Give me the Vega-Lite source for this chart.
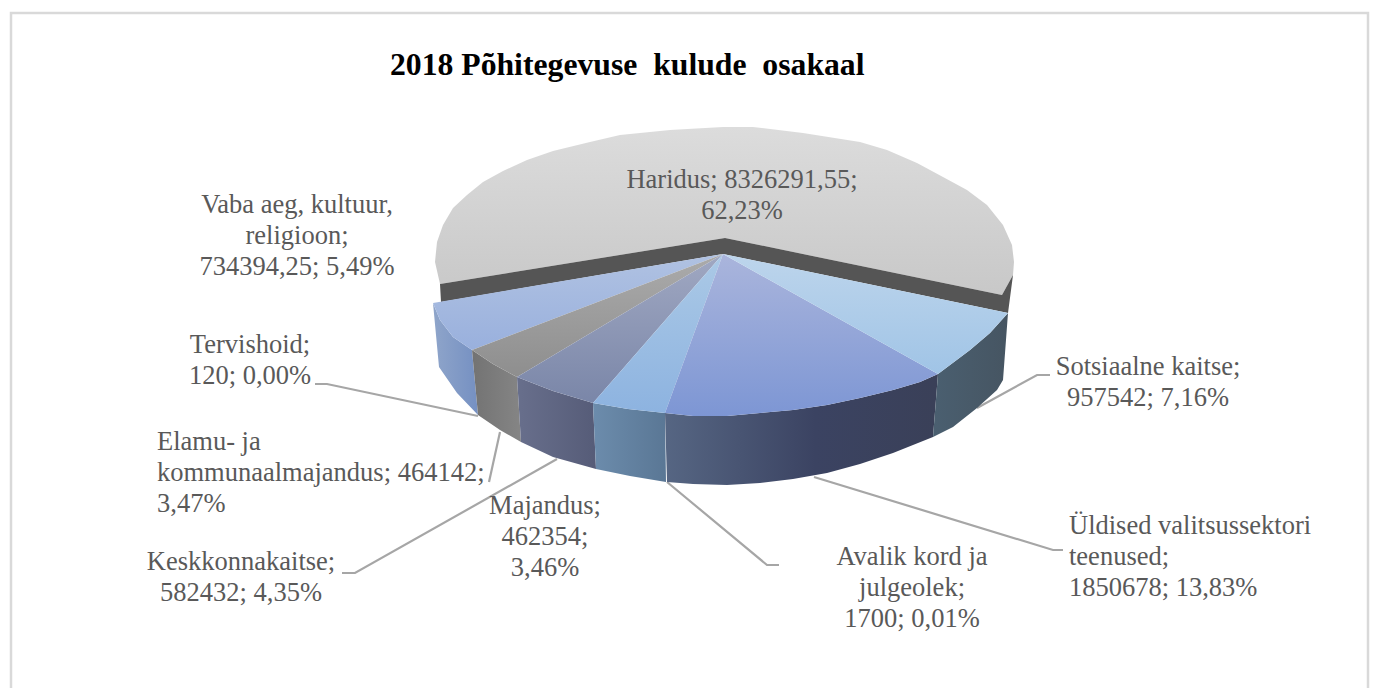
{"$schema":"https://vega.github.io/schema/vega-lite/v6.json","width":1373,"height":688,"padding":0,"autosize":"none","background":"white","config":{"view":{"stroke":null}},
"title":{"text":"2018 Põhitegevuse \u00a0kulude \u00a0osakaal","font":"Liberation Serif","fontSize":31.7,"fontWeight":"bold","color":"#000000","anchor":"start","dx":390,"dy":86,"frame":"bounds"},
"datasets":{
"frame":[{"i":0,"x":-712,"y":-434},{"i":1,"x":-712,"y":241},{"i":2,"x":645,"y":241},{"i":3,"x":645,"y":-434}],
"haridusTop":[{"i":0,"x":-283,"y":-30},{"i":1,"x":-288,"y":-8},{"i":2,"x":-286,"y":12},{"i":3,"x":-280,"y":29},{"i":4,"x":-270,"y":46},{"i":5,"x":-256,"y":59},{"i":6,"x":-240,"y":72},{"i":7,"x":-220,"y":83},{"i":8,"x":-196,"y":94},{"i":9,"x":-170,"y":103},{"i":10,"x":-133,"y":112},{"i":11,"x":-103,"y":119},{"i":12,"x":-53,"y":124},{"i":13,"x":0,"y":127},{"i":14,"x":30,"y":127},{"i":15,"x":80,"y":121},{"i":16,"x":137,"y":112},{"i":17,"x":164,"y":104},{"i":18,"x":194,"y":91},{"i":19,"x":220,"y":77},{"i":20,"x":244,"y":64},{"i":21,"x":264,"y":49},{"i":22,"x":280,"y":29},{"i":23,"x":289,"y":9},{"i":24,"x":291,"y":-8},{"i":25,"x":290,"y":-21},{"i":26,"x":279,"y":-41},{"i":27,"x":2,"y":16}],
"haridusCut":[{"i":0,"x":-283,"y":-30},{"i":1,"x":2,"y":16},{"i":2,"x":279,"y":-41},{"i":3,"x":290,"y":-21},{"i":4,"x":285,"y":-59},{"i":5,"x":0,"y":0},{"i":6,"x":-282,"y":-48}],
"vabaTop":[{"i":0,"x":0,"y":0},{"i":1,"x":-290,"y":-49},{"i":2,"x":-283,"y":-66},{"i":3,"x":-270,"y":-83},{"i":4,"x":-251,"y":-96}],
"vabaSide":[{"i":0,"x":-290,"y":-49},{"i":1,"x":-283,"y":-66},{"i":2,"x":-270,"y":-83},{"i":3,"x":-251,"y":-96},{"i":4,"x":-245,"y":-161},{"i":5,"x":-266,"y":-139},{"i":6,"x":-284,"y":-113}],
"elamuTop":[{"i":0,"x":0,"y":0},{"i":1,"x":-251,"y":-96},{"i":2,"x":-230,"y":-110},{"i":3,"x":-206,"y":-123}],
"elamuSide":[{"i":0,"x":-251,"y":-96},{"i":1,"x":-230,"y":-110},{"i":2,"x":-206,"y":-123},{"i":3,"x":-202,"y":-188},{"i":4,"x":-223,"y":-176},{"i":5,"x":-245,"y":-161}],
"keskTop":[{"i":0,"x":0,"y":0},{"i":1,"x":-206,"y":-123},{"i":2,"x":-170,"y":-137},{"i":3,"x":-130,"y":-149}],
"keskSide":[{"i":0,"x":-206,"y":-123},{"i":1,"x":-170,"y":-137},{"i":2,"x":-130,"y":-149},{"i":3,"x":-127,"y":-215},{"i":4,"x":-170,"y":-203},{"i":5,"x":-202,"y":-188}],
"majTop":[{"i":0,"x":0,"y":0},{"i":1,"x":-130,"y":-149},{"i":2,"x":-95,"y":-155},{"i":3,"x":-58,"y":-159}],
"majSide":[{"i":0,"x":-130,"y":-149},{"i":1,"x":-95,"y":-155},{"i":2,"x":-58,"y":-159},{"i":3,"x":-57,"y":-228},{"i":4,"x":-93,"y":-222},{"i":5,"x":-127,"y":-215}],
"uldTop":[{"i":0,"x":0,"y":0},{"i":1,"x":-58,"y":-159},{"i":2,"x":-30,"y":-162},{"i":3,"x":4,"y":-162},{"i":4,"x":37,"y":-159},{"i":5,"x":70,"y":-156},{"i":6,"x":104,"y":-151},{"i":7,"x":137,"y":-144},{"i":8,"x":170,"y":-136},{"i":9,"x":197,"y":-128},{"i":10,"x":215,"y":-120}],
"uldSide":[{"i":0,"x":-58,"y":-159},{"i":1,"x":-30,"y":-162},{"i":2,"x":4,"y":-162},{"i":3,"x":37,"y":-159},{"i":4,"x":70,"y":-156},{"i":5,"x":104,"y":-151},{"i":6,"x":137,"y":-144},{"i":7,"x":170,"y":-136},{"i":8,"x":197,"y":-128},{"i":9,"x":215,"y":-120},{"i":10,"x":210,"y":-183},{"i":11,"x":170,"y":-199},{"i":12,"x":137,"y":-210},{"i":13,"x":104,"y":-219},{"i":14,"x":70,"y":-225},{"i":15,"x":37,"y":-229},{"i":16,"x":4,"y":-231},{"i":17,"x":-30,"y":-230},{"i":18,"x":-56,"y":-228}],
"sotsTop":[{"i":0,"x":0,"y":0},{"i":1,"x":215,"y":-120},{"i":2,"x":247,"y":-96},{"i":3,"x":267,"y":-79},{"i":4,"x":285,"y":-59}],
"sotsSide":[{"i":0,"x":215,"y":-120},{"i":1,"x":247,"y":-96},{"i":2,"x":267,"y":-79},{"i":3,"x":285,"y":-59},{"i":4,"x":280,"y":-126},{"i":5,"x":274,"y":-136},{"i":6,"x":254,"y":-154},{"i":7,"x":230,"y":-173},{"i":8,"x":210,"y":-183}],
"leaders":[
{"sector":"Sotsiaalne kaitse","i":0,"x":254,"y":-154},{"sector":"Sotsiaalne kaitse","i":1,"x":314,"y":-121},{"sector":"Sotsiaalne kaitse","i":2,"x":327,"y":-121},
{"sector":"Üldised valitsussektori teenused","i":0,"x":91,"y":-223},{"sector":"Üldised valitsussektori teenused","i":1,"x":330,"y":-296},{"sector":"Üldised valitsussektori teenused","i":2,"x":340,"y":-296},
{"sector":"Avalik kord ja julgeolek","i":0,"x":-56,"y":-228},{"sector":"Avalik kord ja julgeolek","i":1,"x":44,"y":-311},{"sector":"Avalik kord ja julgeolek","i":2,"x":56,"y":-311},
{"sector":"Keskkonnakaitse","i":0,"x":-166,"y":-205},{"sector":"Keskkonnakaitse","i":1,"x":-368,"y":-319},{"sector":"Keskkonnakaitse","i":2,"x":-381,"y":-319},
{"sector":"Elamu- ja kommunaalmajandus","i":0,"x":-223,"y":-178},{"sector":"Elamu- ja kommunaalmajandus","i":1,"x":-234,"y":-228},
{"sector":"Tervishoid","i":0,"x":-245,"y":-162},{"sector":"Tervishoid","i":1,"x":-396,"y":-130},{"sector":"Tervishoid","i":2,"x":-408,"y":-130}],
"labels":[
{"sector":"Haridus","value":8326291.55,"pct":62.23,"label":"Haridus; 8326291,55;\n62,23%","x":19,"y":74,"side":"center"},
{"sector":"Vaba aeg, kultuur, religioon","value":734394.25,"pct":5.49,"label":"Vaba aeg, kultuur,\nreligioon;\n734394,25; 5,49%","x":-426,"y":49,"side":"center"},
{"sector":"Tervishoid","value":120,"pct":0,"label":"Tervishoid;\n120; 0,00%","x":-473,"y":-91,"side":"center"},
{"sector":"Elamu- ja kommunaalmajandus","value":464142,"pct":3.47,"label":"Elamu- ja\nkommunaalmajandus; 464142;\n3,47%","x":-566,"y":-188,"side":"left"},
{"sector":"Keskkonnakaitse","value":582432,"pct":4.35,"label":"Keskkonnakaitse;\n582432; 4,35%","x":-482,"y":-308,"side":"center"},
{"sector":"Majandus","value":462354,"pct":3.46,"label":"Majandus;\n462354;\n3,46%","x":-178,"y":-252,"side":"center"},
{"sector":"Avalik kord ja julgeolek","value":1700,"pct":0.01,"label":"Avalik kord ja\njulgeolek;\n1700; 0,01%","x":189,"y":-303,"side":"center"},
{"sector":"Üldised valitsussektori teenused","value":1850678,"pct":13.83,"label":"Üldised valitsussektori\nteenused;\n1850678; 13,83%","x":346,"y":-272,"side":"left"},
{"sector":"Sotsiaalne kaitse","value":957542,"pct":7.16,"label":"Sotsiaalne kaitse;\n957542; 7,16%","x":425,"y":-113,"side":"center"}]
},
"encoding":{"x":{"field":"x","type":"quantitative","scale":{"domain":[-723,650],"nice":false,"zero":false},"axis":null},"y":{"field":"y","type":"quantitative","scale":{"domain":[-434,254],"nice":false,"zero":false},"axis":null}},
"layer":[
{"data":{"name":"frame"},"mark":{"type":"line","stroke":"#d9d9d9","strokeWidth":2.5},"encoding":{"order":{"field":"i"}}},
{"data":{"name":"haridusTop"},"mark":{"type":"line","strokeWidth":0,"fill":{"gradient":"linear","x1":0,"y1":0,"x2":0,"y2":1,"stops":[{"offset":0,"color":"#dcdcdc"},{"offset":1,"color":"#c8c8c8"}]}},"encoding":{"order":{"field":"i"}}},
{"data":{"name":"haridusCut"},"mark":{"type":"line","strokeWidth":0,"fill":"#555555"},"encoding":{"order":{"field":"i"}}},
{"data":{"name":"leaders"},"mark":{"type":"line","stroke":"#a6a6a6","strokeWidth":2.2},"encoding":{"detail":{"field":"sector"},"order":{"field":"i"}}},
{"data":{"name":"vabaSide"},"mark":{"type":"line","strokeWidth":0,"fill":{"gradient":"linear","x1":0,"y1":0,"x2":1,"y2":0,"stops":[{"offset":0,"color":"#8fa5ca"},{"offset":1,"color":"#7590c2"}]}},"encoding":{"order":{"field":"i"}}},
{"data":{"name":"vabaTop"},"mark":{"type":"line","strokeWidth":0,"fill":{"gradient":"linear","x1":0,"y1":0,"x2":0,"y2":1,"stops":[{"offset":0,"color":"#b0c2e2"},{"offset":1,"color":"#99b0dd"}]}},"encoding":{"order":{"field":"i"}}},
{"data":{"name":"elamuSide"},"mark":{"type":"line","strokeWidth":0,"fill":{"gradient":"linear","x1":0,"y1":0,"x2":1,"y2":0,"stops":[{"offset":0,"color":"#737373"},{"offset":1,"color":"#858585"}]}},"encoding":{"order":{"field":"i"}}},
{"data":{"name":"elamuTop"},"mark":{"type":"line","strokeWidth":0,"fill":{"gradient":"linear","x1":0,"y1":0,"x2":0,"y2":1,"stops":[{"offset":0,"color":"#ababab"},{"offset":1,"color":"#8e8e8e"}]}},"encoding":{"order":{"field":"i"}}},
{"data":{"name":"keskSide"},"mark":{"type":"line","strokeWidth":0,"fill":{"gradient":"linear","x1":0,"y1":0,"x2":1,"y2":0,"stops":[{"offset":0,"color":"#686f8c"},{"offset":1,"color":"#565c78"}]}},"encoding":{"order":{"field":"i"}}},
{"data":{"name":"keskTop"},"mark":{"type":"line","strokeWidth":0,"fill":{"gradient":"linear","x1":0,"y1":0,"x2":0,"y2":1,"stops":[{"offset":0,"color":"#a0a8c2"},{"offset":1,"color":"#7a86a8"}]}},"encoding":{"order":{"field":"i"}}},
{"data":{"name":"majSide"},"mark":{"type":"line","strokeWidth":0,"fill":{"gradient":"linear","x1":0,"y1":0,"x2":1,"y2":0,"stops":[{"offset":0,"color":"#6c8cac"},{"offset":1,"color":"#5a7795"}]}},"encoding":{"order":{"field":"i"}}},
{"data":{"name":"majTop"},"mark":{"type":"line","strokeWidth":0,"fill":{"gradient":"linear","x1":0,"y1":0,"x2":0,"y2":1,"stops":[{"offset":0,"color":"#abc9e6"},{"offset":1,"color":"#8db3e0"}]}},"encoding":{"order":{"field":"i"}}},
{"data":{"name":"uldSide"},"mark":{"type":"line","strokeWidth":0,"fill":{"gradient":"linear","x1":0,"y1":0,"x2":1,"y2":0,"stops":[{"offset":0,"color":"#566683"},{"offset":0.55,"color":"#3b4362"},{"offset":1,"color":"#3a4058"}]}},"encoding":{"order":{"field":"i"}}},
{"data":{"name":"uldTop"},"mark":{"type":"line","strokeWidth":0,"fill":{"gradient":"linear","x1":0,"y1":0,"x2":0,"y2":1,"stops":[{"offset":0,"color":"#aab5dc"},{"offset":1,"color":"#7d96d4"}]}},"encoding":{"order":{"field":"i"}}},
{"data":{"name":"sotsSide"},"mark":{"type":"line","strokeWidth":0,"fill":{"gradient":"linear","x1":0,"y1":0,"x2":1,"y2":0,"stops":[{"offset":0,"color":"#4a5f70"},{"offset":1,"color":"#465562"}]}},"encoding":{"order":{"field":"i"}}},
{"data":{"name":"sotsTop"},"mark":{"type":"line","strokeWidth":0,"fill":{"gradient":"linear","x1":0,"y1":0,"x2":0,"y2":1,"stops":[{"offset":0,"color":"#bdd5ec"},{"offset":1,"color":"#a0c4e6"}]}},"encoding":{"order":{"field":"i"}}},
{"data":{"name":"labels"},"transform":[{"filter":"datum.side==='center'"}],"mark":{"type":"text","font":"Liberation Serif","fontSize":26.5,"color":"#595959","align":"center","baseline":"middle","lineBreak":"\n","lineHeight":31},"encoding":{"text":{"field":"label"}}},
{"data":{"name":"labels"},"transform":[{"filter":"datum.side==='left'"}],"mark":{"type":"text","font":"Liberation Serif","fontSize":26.5,"color":"#595959","align":"left","baseline":"middle","lineBreak":"\n","lineHeight":31},"encoding":{"text":{"field":"label"}}}
]}
